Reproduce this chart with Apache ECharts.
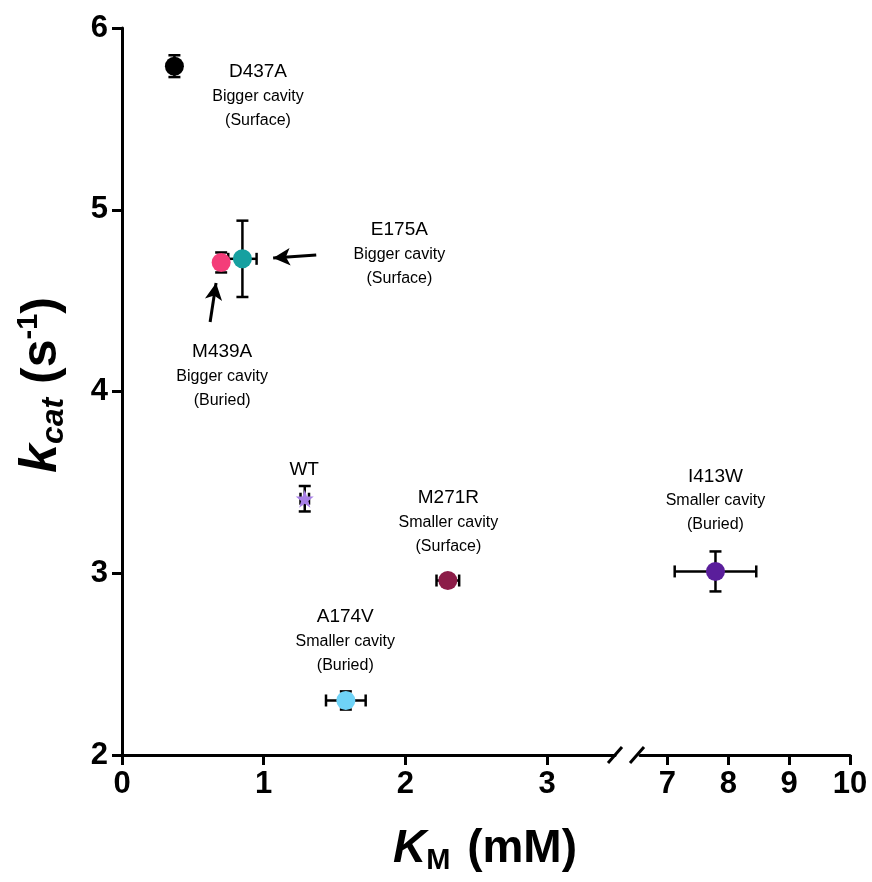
<!DOCTYPE html>
<html>
<head>
<meta charset="utf-8">
<script src="https://cdn.jsdelivr.net/npm/echarts@6/dist/echarts.min.js"></script>
<style>
  html, body { margin: 0; padding: 0; background: #fff; }
  #chart { width: 872px; height: 882px; }
</style>
</head>
<body>
<div id="chart"></div>
<script>
// mutants and kinetic values
var names = ['D437A', 'M439A', 'E175A', 'WT', 'M271R', 'A174V', 'I413W']
var km = [0.37, 0.70, 0.85, 1.29, 2.30, 1.58, 7.79]
var kmErr = [0.02, 0.03, 0.10, 0.03, 0.08, 0.14, 0.67]
var kcat = [5.79, 4.71, 4.73, 3.41, 2.96, 2.30, 3.01]
var kcatErr = [0.06, 0.055, 0.21, 0.07, 0.02, 0.05, 0.11]
var colors = ['#000000', '#f43d79', '#16a0a0', '#a77fe6', '#8c1c48', '#6fd3f7', '#5a1e9b']

var STAR = 'path://M0,-10L2.35,-3.24L9.51,-3.09L3.8,1.24L5.88,8.09L0,4L-5.88,8.09L-3.8,1.24L-9.51,-3.09L-2.35,-3.24Z'
var symbols = ['circle', 'circle', 'circle', STAR, 'circle', 'circle', 'circle']

var subtitles = ['Bigger cavity\n(Surface)', 'Bigger cavity\n(Buried)', 'Bigger cavity\n(Surface)', '',
  'Smaller cavity\n(Surface)', 'Smaller cavity\n(Buried)', 'Smaller cavity\n(Buried)']
// where each text block sits (data coords)
var labelPos = [[0.96, 5.626], [0.707, 4.085], [1.958, 4.757], [1.286, 3.568], [2.304, 3.282], [1.576, 2.627], [7.79, 3.40]]

var leftTicks = [0, 1, 2, 3]
var rightTicks = [7, 8, 9, 10]
var yTicks = [2, 3, 4, 5, 6]

var FONT = 'Liberation Sans, Arial, Helvetica, sans-serif'
var myChart = echarts.init(document.getElementById('chart'))

function pick (gridIdx) {
  var idx = []
  for (var i = 0; i < names.length; i++) {
    if ((gridIdx === 1) === (km[i] > 5)) idx.push(i)
  }
  return idx
}

function errorBars (gridIdx) {
  var rows = pick(gridIdx).map(function (i) {
    return [km[i], kcat[i], kmErr[i], kcatErr[i]]
  })
  return {
    type: 'custom',
    xAxisIndex: gridIdx,
    yAxisIndex: gridIdx,
    z: 2,
    silent: true,
    data: rows,
    renderItem: function (params, api) {
      var x = api.value(0), y = api.value(1), ex = api.value(2), ey = api.value(3)
      var c = 6
      var l = api.coord([x - ex, y]), r = api.coord([x + ex, y])
      var t = api.coord([x, y + ey]), b = api.coord([x, y - ey])
      var st = { stroke: '#000', lineWidth: 2.5 }
      return {
        type: 'group',
        children: [
          { type: 'line', shape: { x1: l[0], y1: l[1], x2: r[0], y2: r[1] }, style: st },
          { type: 'line', shape: { x1: l[0], y1: l[1] - c, x2: l[0], y2: l[1] + c }, style: st },
          { type: 'line', shape: { x1: r[0], y1: r[1] - c, x2: r[0], y2: r[1] + c }, style: st },
          { type: 'line', shape: { x1: t[0], y1: t[1], x2: b[0], y2: b[1] }, style: st },
          { type: 'line', shape: { x1: t[0] - c, y1: t[1], x2: t[0] + c, y2: t[1] }, style: st },
          { type: 'line', shape: { x1: b[0] - c, y1: b[1], x2: b[0] + c, y2: b[1] }, style: st }
        ]
      }
    }
  }
}

function points (gridIdx) {
  var rows = pick(gridIdx).map(function (i) {
    return {
      value: [km[i], kcat[i]],
      symbol: symbols[i],
      symbolSize: symbols[i] === STAR ? 18 : 19,
      itemStyle: { color: colors[i], opacity: 1 }
    }
  })
  return { type: 'scatter', xAxisIndex: gridIdx, yAxisIndex: gridIdx, z: 3, data: rows }
}

function labels (gridIdx) {
  var rows = pick(gridIdx).map(function (i) {
    return { value: labelPos[i], name: names[i], sub: subtitles[i] }
  })
  return {
    type: 'scatter',
    xAxisIndex: gridIdx,
    yAxisIndex: gridIdx,
    symbolSize: 0,
    silent: true,
    data: rows,
    itemStyle: { opacity: 1 },
    label: {
      show: true,
      position: 'inside',
      align: 'center',
      verticalAlign: 'middle',
      color: '#000',
      opacity: 1,
      formatter: function (p) {
        var s = '{t|' + p.data.name + '}'
        if (p.data.sub) {
          s += '\n' + p.data.sub.split('\n').map(function (x) { return '{s|' + x + '}' }).join('\n')
        }
        return s
      },
      rich: {
        t: { fontFamily: FONT, fontSize: 19, lineHeight: 25, color: '#000' },
        s: { fontFamily: FONT, fontSize: 16, lineHeight: 24, color: '#000' }
      }
    }
  }
}

var axisLine = { show: true, lineStyle: { color: '#000', width: 3 } }
var axisTick = { show: true, inside: false, length: 10, lineStyle: { color: '#000', width: 3 } }
var tickFont = { fontFamily: FONT, fontSize: 31, fontWeight: 'bold', color: '#000' }

var arrowLines = labels(0)
arrowLines.markLine = {
  silent: true,
  symbol: ['none', 'arrow'],
  symbolSize: [13, 17],
  label: { show: false },
  lineStyle: { color: '#000', width: 3, type: 'solid' },
  data: [
    [{ coord: [1.371, 4.751] }, { coord: [1.067, 4.735] }],
    [{ coord: [0.622, 4.382] }, { coord: [0.664, 4.597] }]
  ]
}

var option = {
  animation: false,
  backgroundColor: '#fff',
  grid: [
    { left: 122, top: 28, width: 493, height: 727 },
    { left: 640, top: 28, width: 210, height: 727 }
  ],
  xAxis: [
    {
      type: 'value', gridIndex: 0, min: 0, max: 3.48,
      axisLine: axisLine, axisTick: Object.assign({ customValues: leftTicks }, axisTick),
      axisLabel: Object.assign({ customValues: leftTicks, margin: 14 }, tickFont),
      splitLine: { show: false }
    },
    {
      type: 'value', gridIndex: 1, min: 6.55, max: 10,
      axisLine: axisLine, axisTick: Object.assign({ customValues: rightTicks }, axisTick),
      axisLabel: Object.assign({ customValues: rightTicks, margin: 14 }, tickFont),
      splitLine: { show: false }
    }
  ],
  yAxis: [
    {
      type: 'value', gridIndex: 0, min: 2, max: 6,
      axisLine: axisLine, axisTick: Object.assign({ customValues: yTicks }, axisTick),
      axisLabel: Object.assign({ customValues: yTicks, margin: 14 }, tickFont),
      splitLine: { show: false }
    },
    {
      type: 'value', gridIndex: 1, min: 2, max: 6, show: false,
      splitLine: { show: false }
    }
  ],
  graphic: [
    // axis break marks
    { type: 'line', shape: { x1: 608, y1: 763, x2: 622, y2: 747 }, style: { stroke: '#000', lineWidth: 3 } },
    { type: 'line', shape: { x1: 630, y1: 763, x2: 644, y2: 747 }, style: { stroke: '#000', lineWidth: 3 } },
    {
      type: 'text', x: 485, y: 849,
      style: {
        text: '{k|K}{sub|M}{n| (mM)}',
        align: 'center', verticalAlign: 'middle',
        rich: {
          k: { fontFamily: FONT, fontSize: 46, fontWeight: 'bold', fontStyle: 'italic', fill: '#000', lineHeight: 52, verticalAlign: 'middle' },
          sub: { fontFamily: FONT, fontSize: 29, fontWeight: 'bold', fill: '#000', lineHeight: 52, verticalAlign: 'bottom', padding: [0, 4, 0, 0] },
          n: { fontFamily: FONT, fontSize: 46, fontWeight: 'bold', fill: '#000', lineHeight: 52, verticalAlign: 'middle' }
        }
      }
    },
    {
      type: 'text', x: 42, y: 385, rotation: Math.PI / 2,
      style: {
        text: '{k|k}{sub|cat}{n| (s}{sup|-1}{n|)}',
        align: 'center', verticalAlign: 'middle',
        rich: {
          k: { fontFamily: FONT, fontSize: 52, fontWeight: 'bold', fontStyle: 'italic', fill: '#000', lineHeight: 56, verticalAlign: 'middle' },
          sub: { fontFamily: FONT, fontSize: 32, fontWeight: 'bold', fontStyle: 'italic', fill: '#000', lineHeight: 56, verticalAlign: 'bottom' },
          sup: { fontFamily: FONT, fontSize: 29, fontWeight: 'bold', fill: '#000', lineHeight: 56, verticalAlign: 'top' },
          n: { fontFamily: FONT, fontSize: 50, fontWeight: 'bold', fill: '#000', lineHeight: 56, verticalAlign: 'middle' }
        }
      }
    }
  ],
  series: [
    errorBars(0), errorBars(1),
    points(0), points(1),
    arrowLines, labels(1)
  ]
}

myChart.setOption(option)
</script>
</body>
</html>
